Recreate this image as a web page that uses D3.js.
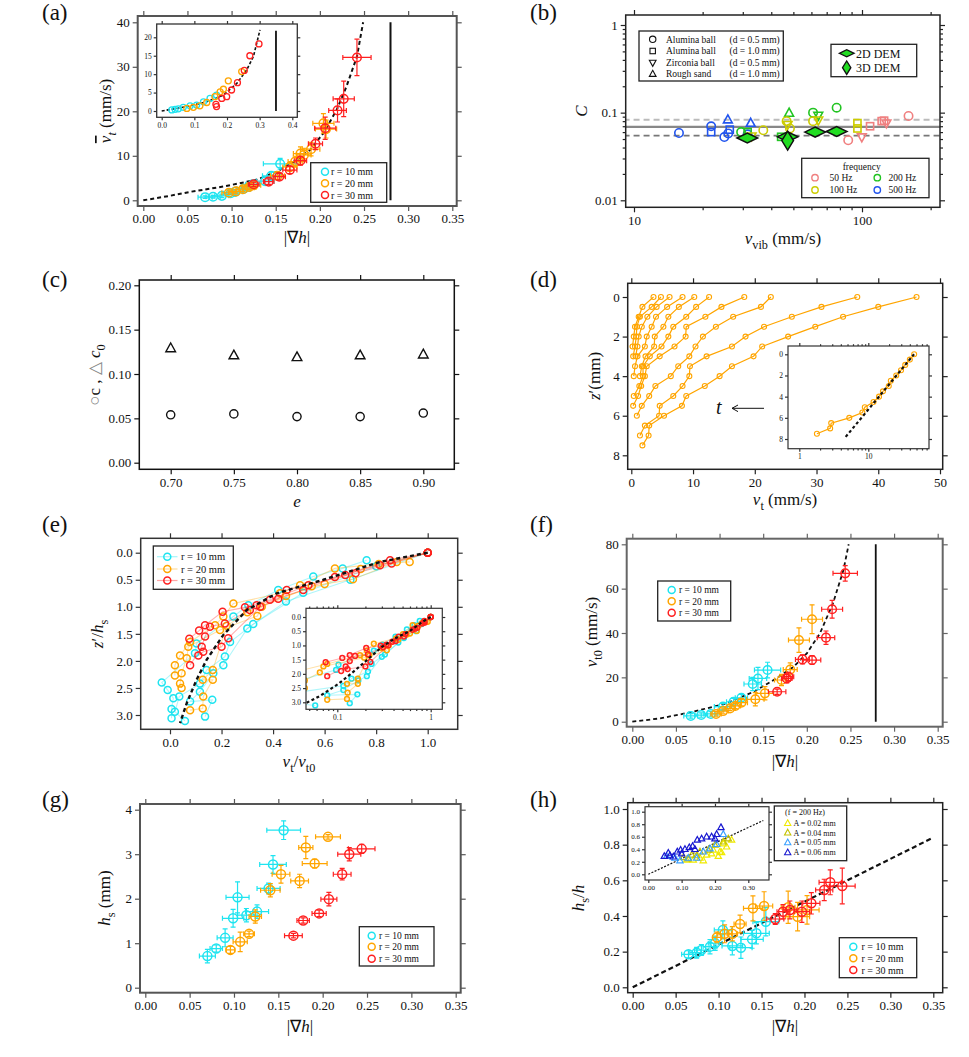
<!DOCTYPE html>
<html><head><meta charset="utf-8">
<script src="https://cdn.jsdelivr.net/npm/d3@7"></script>
<style>
body{margin:0;background:#fff;}
svg{display:block;}
</style></head><body>
<svg id="fig" width="969" height="1057"></svg>
<script>
// ---------------- DATA ----------------
// (a) mean surface velocity vs |grad h|  [x, y, xerr, yerr]
const aCyan = [[0.070,0.7,0.008,0.3],[0.079,0.8,0.008,0.3],[0.089,1.0,0.008,0.4],[0.099,1.6,0.008,0.4],[0.104,1.9,0.008,0.5],[0.114,2.6,0.008,0.5],[0.119,3.0,0.008,0.5],[0.124,3.6,0.008,0.6],[0.138,4.3,0.01,0.8],[0.145,5.5,0.01,0.8],[0.155,8.2,0.019,1.2]];
const aOrange = [[0.097,1.7,0.008,0.4],[0.105,2.0,0.008,0.4],[0.113,2.5,0.008,0.5],[0.120,3.0,0.008,0.5],[0.125,3.4,0.008,0.6],[0.152,5.5,0.008,0.8],[0.166,7.5,0.008,1.0],[0.172,8.7,0.008,1.2],[0.178,10.5,0.008,1.5],[0.182,10.2,0.008,1.5],[0.190,11.5,0.01,1.5],[0.204,17.3,0.012,2.2],[0.207,16.0,0.012,2.0]];
const aRed = [[0.125,3.6,0.006,0.5],[0.142,4.2,0.006,0.6],[0.154,5.3,0.007,0.7],[0.166,6.8,0.008,0.8],[0.178,8.9,0.007,1.0],[0.195,12.7,0.008,1.3],[0.206,16.2,0.012,2.5],[0.220,20.2,0.01,2.6],[0.227,22.8,0.012,4.0],[0.242,32.1,0.016,4.1]];
const aCurve = [[0,0],[0.03,1.0],[0.053,1.9],[0.091,3.1],[0.128,4.6],[0.151,6.4],[0.174,9.1],[0.189,11.3],[0.204,15.1],[0.219,20.3],[0.230,25.5],[0.242,32.3],[0.249,40]];
const aVLine = [[0.28,0],[0.28,40]];
const aInsetCyan = [[0.031,0.3],[0.041,0.45],[0.051,0.6],[0.066,1.0],[0.087,1.4],[0.107,1.6],[0.128,2.5],[0.148,3.4],[0.168,4.3]];
const aInsetOrange = [[0.077,0.7],[0.097,1.0],[0.117,1.4],[0.138,2.3],[0.163,3.9],[0.179,5.2],[0.189,5.9],[0.204,8.2],[0.245,10.7]];
const aInsetRed = [[0.166,1.8],[0.168,1.2],[0.184,3.4],[0.199,3.9],[0.214,5.7],[0.232,7.7],[0.253,11],[0.270,15],[0.298,18.2]];
const aInsetCurve = [[0,0],[0.046,0.7],[0.087,1.4],[0.138,2.5],[0.189,4.3],[0.230,7.5],[0.260,11.1],[0.281,14.8],[0.301,22]];
const aInsetVLine = [[0.35,0],[0.35,21.8]];

// (b) C vs v_vib, grouped by frequency: [shape, v_vib, C]
const b50 = [["circle",87,0.0484],["tridown",99.8,0.0527],["square",108.5,0.070],["square",122,0.080],["square",125,0.081],["tridown",128,0.076],["circle",160,0.0916]];
const b100 = [["circle",36.9,0.063],["tridown",32.8,0.054],["circle",46.7,0.080],["tridown",47.2,0.073],["circle",48.3,0.066],["circle",61,0.080],["tridown",64.3,0.082],["square",95.5,0.076],["square",95.5,0.066]];
const b200 = [["circle",29.5,0.060],["square",31.5,0.060],["square",44.2,0.053],["triup",47.9,0.099],["circle",61,0.100],["tridown",64.3,0.093],["circle",77.4,0.114]];
const b500 = [["circle",15.75,0.0586],["circle",21.8,0.0698],["square",21.8,0.060],["circle",24.9,0.0527],["triup",25.8,0.083],["square",26.3,0.064],["circle",25.9,0.058],["triup",32.5,0.076],["circle",31.5,0.0566]];
const bDem2D = [[31.4,0.0514],[47.2,0.053],[62.3,0.060],[77.4,0.061]];
const bDem3D = [[47.2,0.048]];
const bMean = 0.069, bUpper = 0.083, bLower = 0.0547;
const bMaterials = [["circle","Alumina ball","(d = 0.5 mm)"],["square","Alumina ball","(d = 1.0 mm)"],["tridown","Zirconia ball","(d = 0.5 mm)"],["triup","Rough sand","(d = 1.0 mm)"]];

// (c) c and c0 vs restitution e
const cE = [0.70,0.75,0.80,0.85,0.90];
const cC = [0.054,0.055,0.052,0.052,0.056];
const cC0 = [0.129,0.121,0.119,0.121,0.122];

// (d) velocity profiles v_t (mm/s) at depths z' (mm)
const dDepth = [0,0.5,1.0,1.5,2.0,2.5,3.0,3.5,4.0,4.5,5.0,5.5,6.0,6.5,7.0,7.5];
const dProfiles = [
 [46.2,40.0,34.3,29.8,25.4,21.2,19.8,16.3,14.3,11.9,8.9,8.2,5.3,2.9,2.8,1.8],
 [36.6,30.8,26.0,21.5,18.5,16.3,12.2,9.5,9.4,8.3,6.8,4.6,4.5,2.2,1.4],
 [22.6,21.0,16.5,13.7,11.6,10.4,9.4,7.6,6.4,3.9,2.9,1.7,0.9],
 [18.3,14.6,12.0,8.9,8.8,7.0,4.6,2.5,2.2,1.6,1.1,0.3],
 [12.6,10.5,8.9,6.8,6.0,4.9,3.0,1.9,1.9,1.3,0.4],
 [10.2,7.7,6.0,5.2,3.8,3.7,2.3,1.7,1.4],
 [8.3,5.8,4.0,3.3,2.5,2.2,1.0,0.6,0.4],
 [6.2,4.1,2.6,1.7,1.2,1.0,0.7],
 [4.8,3.3,1.4,0.9,0.8,0.6,0.3],
 [3.6,1.8,1.2,0.6,0.4,0.2]
];
const dInsetFit = [[4.7,7.8],[46,0]];

// (e) normalised profiles [v_t/v_t0, z'/h_s]
const eCyan = [
 [[0.763,0.14],[0.67,0.29],[0.556,0.44],[0.42,0.69],[0.304,0.97],[0.246,1.18],[0.103,1.68],[0.097,1.86],[-0.032,2.4],[-0.009,2.54],[0.013,2.69],[0.006,2.89],[0.006,3.06]],
 [[1,0],[0.8,0.25],[0.517,0.74],[0.323,1.32],[0.233,1.65],[0.213,1.92],[0.142,2.17],[0.116,2.42],[0.036,2.66],[0.019,2.94],[0.058,3.11]],
 [[1,0],[0.7,0.5],[0.45,0.9],[0.3,1.4],[0.207,2.08],[0.168,2.23],[0.116,2.57],[0.078,2.75],[0.164,2.72],[0.136,3.03]]
];
const eOrange = [
 [[0.93,0.17],[0.81,0.21],[0.64,0.29],[0.505,0.6],[0.427,0.75],[0.246,0.94],[0.207,1.18],[0.175,1.34],[0.078,1.65],[0.039,1.9],[0.019,2.08],[0.019,2.27]],
 [[1,0],[0.88,0.17],[0.71,0.49],[0.55,0.62],[0.356,1.0],[0.339,1.17],[0.194,1.43],[0.071,1.74],[0.065,1.95],[0.045,2.23],[0.039,2.42],[0.045,2.5]],
 [[1,0],[0.74,0.3],[0.6,0.58],[0.45,0.8],[0.3,1.1],[0.22,1.35],[0.166,2.17],[0.127,2.35],[0.166,2.35],[0.129,2.66],[0.127,2.88],[0.078,2.91]]
];
const eRed = [
 [[1,0],[0.854,0.14],[0.68,0.41],[0.537,0.6],[0.388,0.87],[0.291,1.01],[0.204,1.09],[0.136,1.34],[0.113,1.44],[0.075,1.59]],
 [[1,0],[0.815,0.23],[0.64,0.45],[0.517,0.69],[0.336,0.97],[0.31,1.06],[0.213,1.31],[0.155,1.37],[0.136,1.55],[0.123,1.74],[0.078,2.08]],
 [[1,0],[0.86,0.2],[0.72,0.38],[0.453,0.69],[0.42,0.85],[0.35,1.0],[0.226,1.58],[0.2,1.74],[0.129,1.83],[0.11,1.9]]
];
const eCurve = [[1,0],[0.815,0.17],[0.595,0.5],[0.414,0.75],[0.298,1.06],[0.207,1.52],[0.142,1.98],[0.103,2.35],[0.065,2.78],[0.039,3.15]];

// (f) v_t0 vs |grad h| [x, y, xerr, yerr]
const fCyan = [[0.067,2.6,0.008,1],[0.079,3.0,0.007,1],[0.090,3.5,0.008,1],[0.104,6.8,0.01,1.5],[0.116,9.0,0.008,1.5],[0.125,10.8,0.007,1.5],[0.138,17,0.01,3],[0.144,19.5,0.01,5],[0.155,23.3,0.015,3.5]];
const fOrange = [[0.096,3.5,0.006,1],[0.104,4.8,0.006,1],[0.112,6.0,0.006,1],[0.118,7.1,0.006,1.2],[0.125,8.6,0.007,1.5],[0.141,10.1,0.01,3],[0.152,12.8,0.01,3],[0.171,18.8,0.008,2.5],[0.181,23.5,0.008,3],[0.191,36.8,0.012,5.5],[0.206,46.2,0.012,6.5]];
const fRed = [[0.166,13.5,0.01,1.2],[0.177,19.5,0.006,2],[0.179,20.3,0.006,2],[0.195,28.1,0.008,2],[0.206,27.8,0.01,2],[0.222,37.9,0.01,3],[0.229,50.7,0.012,4],[0.244,66.9,0.014,3.5]];
const fCurve = [[0,0],[0.032,1.5],[0.07,4.5],[0.108,8.3],[0.139,13.5],[0.165,19.5],[0.185,24.8],[0.2,30.8],[0.215,39.8],[0.23,53.4],[0.242,68.4],[0.248,80]];
const fVLine = [[0.279,0],[0.279,80]];

// (g) h_s vs |grad h|
const gCyan = [[0.070,0.71,0.009,0.15],[0.080,0.88,0.007,0.08],[0.090,1.12,0.009,0.2],[0.099,1.56,0.012,0.2],[0.104,2.03,0.013,0.35],[0.114,1.63,0.01,0.15],[0.126,1.71,0.013,0.15],[0.139,2.23,0.013,0.12],[0.144,2.77,0.015,0.2],[0.156,3.54,0.019,0.21]];
const gOrange = [[0.096,0.85,0.005,0.08],[0.107,1.03,0.008,0.22],[0.117,1.21,0.006,0.06],[0.124,1.60,0.007,0.15],[0.141,2.19,0.011,0.15],[0.153,2.55,0.01,0.2],[0.174,2.40,0.01,0.15],[0.181,3.15,0.008,0.25],[0.191,2.79,0.014,0.1],[0.206,3.39,0.014,0.05]];
const gRed = [[0.167,1.17,0.01,0.05],[0.178,1.51,0.007,0.06],[0.196,1.67,0.008,0.07],[0.207,1.99,0.009,0.15],[0.222,2.55,0.01,0.13],[0.230,3.00,0.013,0.15],[0.244,3.12,0.015,0.1]];

// (h) h_s/h vs |grad h|
const hCyan = [[0.065,0.185,0.008,0.02],[0.0745,0.194,0.008,0.03],[0.080,0.209,0.008,0.03],[0.090,0.228,0.008,0.04],[0.096,0.247,0.008,0.04],[0.105,0.322,0.01,0.05],[0.116,0.232,0.012,0.05],[0.126,0.222,0.013,0.06],[0.139,0.269,0.013,0.05],[0.144,0.303,0.015,0.06],[0.155,0.368,0.015,0.08]];
const hOrange = [[0.098,0.28,0.005,0.03],[0.107,0.30,0.008,0.05],[0.116,0.30,0.006,0.04],[0.125,0.355,0.007,0.05],[0.140,0.443,0.011,0.07],[0.153,0.456,0.01,0.08],[0.181,0.449,0.008,0.09],[0.192,0.396,0.014,0.08],[0.203,0.434,0.014,0.08]];
const hRed = [[0.166,0.383,0.01,0.03],[0.175,0.424,0.007,0.04],[0.183,0.434,0.008,0.05],[0.197,0.424,0.009,0.06],[0.208,0.471,0.01,0.06],[0.223,0.546,0.01,0.06],[0.230,0.589,0.013,0.07],[0.244,0.568,0.015,0.1]];
const hLine = [[0,0],[0.35,0.84]];
const hiA02 = [[0.115,0.23],[0.135,0.23],[0.155,0.26],[0.175,0.31],[0.195,0.39],[0.215,0.36],[0.22,0.35],[0.225,0.49],[0.235,0.44],[0.25,0.55],[0.21,0.29],[0.19,0.33],[0.165,0.22]];
const hiA04 = [[0.105,0.27],[0.13,0.31],[0.155,0.36],[0.18,0.39],[0.2,0.47],[0.225,0.52],[0.24,0.57],[0.12,0.25],[0.145,0.3]];
const hiA05 = [[0.055,0.29],[0.08,0.26],[0.095,0.22],[0.12,0.26],[0.145,0.26],[0.165,0.36],[0.185,0.41],[0.205,0.48],[0.225,0.64]];
const hiA06 = [[0.048,0.29],[0.06,0.34],[0.075,0.28],[0.087,0.36],[0.097,0.39],[0.11,0.4],[0.123,0.43],[0.133,0.45],[0.147,0.55],[0.16,0.57],[0.175,0.6],[0.19,0.6],[0.2,0.57],[0.205,0.64],[0.218,0.75],[0.065,0.3],[0.1,0.33],[0.14,0.4]];
const hiLine = [[0,0],[0.345,0.86]];

// tick values
const tGrad = [0,0.05,0.10,0.15,0.20,0.25,0.30,0.35];
const tA_y = [0,10,20,30,40];
const tAi_x = [0,0.1,0.2,0.3,0.4], tAi_y = [0,5,10,15,20];
const tB_x = [10,100], tB_xm = [20,30,40,50,60,70,80,90,200];
const tB_y = [0.01,0.1,1], tB_ym = [0.02,0.03,0.04,0.05,0.06,0.07,0.08,0.09,0.2,0.3,0.4,0.5,0.6,0.7,0.8,0.9];
const tC_x = [0.70,0.75,0.80,0.85,0.90], tC_y = [0,0.05,0.10,0.15,0.20];
const tD_x = [0,10,20,30,40,50], tD_y = [0,2,4,6,8];
const tDi_x = [1,10], tDi_xm = [2,3,4,5,6,7,8,9,20,30,40,50,60,70];
const tE_x = [0,0.2,0.4,0.6,0.8,1.0], tE_y = [0,0.5,1.0,1.5,2.0,2.5,3.0];
const tEi_x = [0.1,1], tEi_xm = [0.05,0.06,0.07,0.08,0.09,0.2,0.3,0.4,0.5,0.6,0.7,0.8,0.9];
const tF_y = [0,20,40,60,80];
const tG_y = [0,1,2,3,4];
const tH_y = [0,0.2,0.4,0.6,0.8,1.0];
const tHi_x = [0,0.1,0.2,0.3], tHi_y = [0,0.2,0.4,0.6,0.8,1.0];

const COL = {cyan:"#1ee4f0", orange:"#ffa500", red:"#ff2020"};
const FREQ = {f50:"#f08080", f100:"#cccc00", f200:"#22c422", f500:"#2255ee"};

// ---------------- HELPERS ----------------
const svg = d3.select("#fig");
const FONT = '"Liberation Serif","Times New Roman",Times,serif';
let clipN = 0;
const f2 = d3.format(".2f"), f1 = d3.format(".1f"), fd = d3.format("d");

function panel(o) {
  const g = svg.append("g");
  const tk = o.tick ?? 5, fs = o.fs ?? 13, col = o.color ?? "#222", sw = o.sw ?? 1.5;
  if (o.bg) g.append("rect").attr("x", o.x0).attr("y", o.y0).attr("width", o.x1 - o.x0).attr("height", o.y1 - o.y0).attr("fill", "#fff");
  const ax = g.append("g");
  const mk = (fn, sc, vals, fmt, tr, size, lab) => {
    const a = fn(sc).tickValues(vals).tickSize(size).tickSizeOuter(0).tickPadding(o.pad ?? 3).tickFormat(lab ? fmt : () => "");
    const s = ax.append("g").attr("transform", tr).call(a);
    s.select(".domain").remove();
    s.selectAll("line").attr("stroke", col).attr("stroke-width", o.tw ?? 1.2);
    s.selectAll("text").attr("font-family", FONT).attr("font-size", fs).attr("fill", "#111");
  };
  mk(d3.axisBottom, o.xs, o.xt, o.xf, `translate(0,${o.y1})`, tk, true);
  mk(d3.axisTop, o.xs, o.xt, o.xf, `translate(0,${o.y0})`, tk, false);
  mk(d3.axisLeft, o.ys, o.yt, o.yf, `translate(${o.x0},0)`, tk, true);
  mk(d3.axisRight, o.ys, o.yt, o.yf, `translate(${o.x1},0)`, tk, false);
  if (o.xm) {
    mk(d3.axisBottom, o.xs, o.xm, null, `translate(0,${o.y1})`, tk * 0.6, false);
    mk(d3.axisTop, o.xs, o.xm, null, `translate(0,${o.y0})`, tk * 0.6, false);
  }
  if (o.ym) {
    mk(d3.axisLeft, o.ys, o.ym, null, `translate(${o.x0},0)`, tk * 0.6, false);
    mk(d3.axisRight, o.ys, o.ym, null, `translate(${o.x1},0)`, tk * 0.6, false);
  }
  const id = "clip" + (clipN++);
  g.append("clipPath").attr("id", id).append("rect").attr("x", o.x0).attr("y", o.y0).attr("width", o.x1 - o.x0).attr("height", o.y1 - o.y0);
  const data = g.append("g").attr("clip-path", `url(#${id})`);
  g.append("rect").attr("x", o.x0).attr("y", o.y0).attr("width", o.x1 - o.x0).attr("height", o.y1 - o.y0)
    .attr("fill", "none").attr("stroke", col).attr("stroke-width", sw);
  return {g, data};
}

function errPts(gr, xs, ys, arr, color, r) {
  const gg = gr.append("g").attr("stroke", color).attr("fill", "none");
  arr.forEach(([x, y, xe, ye]) => {
    const cx = xs(x), cy = ys(y), c = 2.5;
    if (xe) {
      const a = xs(x - xe), b = xs(x + xe);
      gg.append("line").attr("x1", a).attr("x2", b).attr("y1", cy).attr("y2", cy).attr("stroke-width", 1.2);
      [a, b].forEach(v => gg.append("line").attr("x1", v).attr("x2", v).attr("y1", cy - c).attr("y2", cy + c).attr("stroke-width", 1.2));
    }
    if (ye) {
      const a = ys(y - ye), b = ys(y + ye);
      gg.append("line").attr("x1", cx).attr("x2", cx).attr("y1", a).attr("y2", b).attr("stroke-width", 1.2);
      [a, b].forEach(v => gg.append("line").attr("y1", v).attr("y2", v).attr("x1", cx - c).attr("x2", cx + c).attr("stroke-width", 1.2));
    }
    gg.append("circle").attr("cx", cx).attr("cy", cy).attr("r", r).attr("stroke-width", 1.5);
  });
}

function plain(gr, xs, ys, arr, color, r, sw) {
  gr.append("g").selectAll("circle").data(arr).join("circle")
    .attr("cx", d => xs(d[0])).attr("cy", d => ys(d[1])).attr("r", r)
    .attr("fill", "none").attr("stroke", color).attr("stroke-width", sw ?? 1.5);
}

function curve(gr, xs, ys, arr, color, w, dash, op) {
  const ln = d3.line().defined(d => xs(d[0]) != null && isFinite(xs(d[0]))).x(d => xs(d[0])).y(d => ys(d[1]));
  gr.append("path").attr("d", ln(arr)).attr("fill", "none").attr("stroke", color)
    .attr("stroke-width", w).attr("stroke-dasharray", dash || null).attr("stroke-opacity", op ?? 1);
}

function shape(gr, type, x, y, s, stroke, fill, sw) {
  let el;
  if (type === "circle") el = gr.append("circle").attr("cx", x).attr("cy", y).attr("r", s);
  else if (type === "square") el = gr.append("rect").attr("x", x - s * 0.85).attr("y", y - s * 0.85).attr("width", 1.7 * s).attr("height", 1.7 * s);
  else {
    const p = {triup: [[0,-1.15],[1.05,0.75],[-1.05,0.75]], tridown: [[0,1.15],[1.05,-0.75],[-1.05,-0.75]],
      dem2: [[-2.3,0],[0,-1.1],[2.3,0],[0,1.1]], dem3: [[-1.3,0],[0,-2.1],[1.3,0],[0,2.1]]}[type];
    el = gr.append("path").attr("d", "M" + p.map(q => [x + q[0] * s, y + q[1] * s].join(",")).join("L") + "Z");
  }
  el.attr("stroke", stroke).attr("fill", fill || "none").attr("stroke-width", sw || 1.5);
  return el;
}

function rich(parent, x, y, segs, fs, opts = {}) {
  const t = parent.append("text").attr("x", x).attr("y", y).attr("font-family", FONT).attr("font-size", fs)
    .attr("fill", "#111").attr("text-anchor", opts.anchor || "middle");
  if (opts.rotate) t.attr("transform", `rotate(-90,${x},${y})`);
  let shift = 0;
  segs.forEach(s => {
    const ts = t.append("tspan").text(s.t);
    if (s.i) ts.attr("font-style", "italic");
    if (s.over) ts.attr("text-decoration", "overline");
    const target = s.sub ? fs * 0.32 : 0;
    if (target !== shift) { ts.attr("dy", target - shift); shift = target; }
    if (s.sub) ts.attr("font-size", fs * 0.72);
    if (s.fill) ts.attr("fill", s.fill);
  });
  return t;
}

function box(gr, x0, y0, x1, y1) {
  gr.append("rect").attr("x", x0).attr("y", y0).attr("width", x1 - x0).attr("height", y1 - y0)
    .attr("fill", "#fff").attr("stroke", "#222").attr("stroke-width", 1.3);
}

function rLegend(gr, x0, y0, x1, y1, cx, tx, rows, fs) {
  box(gr, x0, y0, x1, y1);
  [["r = 10 mm", COL.cyan], ["r = 20 mm", COL.orange], ["r = 30 mm", COL.red]].forEach(([t, c], i) => {
    gr.append("circle").attr("cx", cx).attr("cy", rows[i]).attr("r", 3.5).attr("fill", "none").attr("stroke", c).attr("stroke-width", 1.5);
    gr.append("text").attr("x", tx).attr("y", rows[i] + fs * 0.35).attr("font-family", FONT).attr("font-size", fs).attr("fill", "#111").text(t);
  });
}

function panelLabel(t, x, y) {
  svg.append("text").attr("x", x).attr("y", y).attr("font-family", FONT).attr("font-size", 23).attr("fill", "#111").text(t);
}

const grad = [{t: "|\u2207"}, {t: "h", i: true}, {t: "|"}];
const AX = 17;

// ---------------- (a) ----------------
{
  const xs = d3.scaleLinear().domain([0, 0.35]).range([143.3, 452.3]);
  const ys = d3.scaleLinear().domain([0, 40]).range([200.3, 22.3]);
  const P = panel({x0: 137.7, y0: 16, x1: 456.7, y1: 206, xs, ys, xt: tGrad, xf: f2, yt: tA_y, yf: fd, color: "#555", sw: 2});
  curve(P.data, xs, ys, aVLine, "#111", 2);
  curve(P.data, xs, ys, aCurve, "#111", 2, "4,3");
  errPts(P.data, xs, ys, aCyan, COL.cyan, 4.3);
  errPts(P.data, xs, ys, aOrange, COL.orange, 4.3);
  errPts(P.data, xs, ys, aRed, COL.red, 4.3);
  rLegend(P.g, 310.7, 162.7, 386.7, 202.3, 325, 331, [171.7, 183.3, 195], 10);
  // inset
  const ixs = d3.scaleLinear().domain([0, 0.4]).range([161.7, 292.3]);
  const iys = d3.scaleLinear().domain([0, 20]).range([111, 37.3]);
  const I = panel({x0: 156.7, y0: 24, x1: 297.3, y1: 117.3, xs: ixs, ys: iys, xt: tAi_x, xf: f1, yt: tAi_y, yf: fd, tick: 3, fs: 7.5, pad: 2, color: "#333", sw: 1.3, bg: true});
  curve(I.data, ixs, iys, aInsetVLine, "#111", 1.8);
  curve(I.data, ixs, iys, aInsetCurve, "#111", 1.6, "3,2");
  plain(I.data, ixs, iys, aInsetCyan, COL.cyan, 3, 1.3);
  plain(I.data, ixs, iys, aInsetOrange, COL.orange, 3, 1.3);
  plain(I.data, ixs, iys, aInsetRed, COL.red, 3, 1.3);
  rich(svg, 111, 111, [{t: "v", i: true, over: true}, {t: "t", i: true, sub: true}, {t: " (mm/s)"}], AX, {rotate: true});
  rich(svg, 297, 243, grad, AX);
  panelLabel("(a)", 42, 20);
}

// ---------------- (b) ----------------
{
  const xs = d3.scaleLog().domain([10, 100]).range([634, 862]);
  const ys = d3.scaleLog().domain([0.01, 1]).range([200.3, 25]);
  const P = panel({x0: 625.7, y0: 15, x1: 940, y1: 207.3, xs, ys, xt: tB_x, xf: d => String(d), xm: tB_xm, yt: tB_y, yf: d => String(d), ym: tB_ym, color: "#222", sw: 1.5});
  const hl = (v, c, dash, w) => curve(P.data, xs, ys, [[9, v], [230, v]], c, w, dash);
  hl(bUpper, "#bbb", "6,4", 1.8);
  hl(bLower, "#777", "6,4", 1.8);
  hl(bMean, "#888", null, 2.2);
  [[b500, FREQ.f500], [b200, FREQ.f200], [b100, FREQ.f100], [b50, FREQ.f50]].forEach(([arr, c]) => {
    arr.forEach(d => shape(P.data, d[0], xs(d[1]), ys(d[2]), 4.2, c, "none", 1.6));
  });
  bDem2D.forEach(d => shape(P.data, "dem2", xs(d[0]), ys(d[1]), 4.5, "#111", "#22dd22", 1.5));
  bDem3D.forEach(d => shape(P.data, "dem3", xs(d[0]), ys(d[1]), 4.5, "#111", "#22dd22", 1.5));
  // legend materials
  box(P.g, 639, 31, 783.3, 81);
  const lrows = [39.3, 51, 62.7, 74];
  bMaterials.forEach((m, i) => {
    shape(P.g, m[0], 652.7, lrows[i], 3.2, "#111", "none", 1.1);
    P.g.append("text").attr("x", 666).attr("y", lrows[i] + 3.3).attr("font-family", FONT).attr("font-size", 9.5).attr("fill", "#111").text(m[1]);
    P.g.append("text").attr("x", 729.5).attr("y", lrows[i] + 3.3).attr("font-family", FONT).attr("font-size", 9.5).attr("fill", "#111").text(m[2]);
  });
  // legend DEM
  box(P.g, 831, 44.3, 916.7, 76.7);
  shape(P.g, "dem2", 846.7, 53.3, 3.2, "#111", "#22dd22", 1.3);
  shape(P.g, "dem3", 846.7, 67.7, 3.2, "#111", "#22dd22", 1.3);
  P.g.append("text").attr("x", 856).attr("y", 57.5).attr("font-family", FONT).attr("font-size", 12).attr("fill", "#111").text("2D DEM");
  P.g.append("text").attr("x", 856).attr("y", 71.9).attr("font-family", FONT).attr("font-size", 12).attr("fill", "#111").text("3D DEM");
  // legend frequency
  box(P.g, 801.7, 158.3, 929, 197.7);
  P.g.append("text").attr("x", 861.7).attr("y", 169.5).attr("text-anchor", "middle").attr("font-family", FONT).attr("font-size", 9.5).attr("fill", "#111").text("frequency");
  [["50 Hz", FREQ.f50, 815, 829.5, 177.7], ["100 Hz", FREQ.f100, 815, 829.5, 190], ["200 Hz", FREQ.f200, 877.3, 888.5, 177.7], ["500 Hz", FREQ.f500, 877.3, 888.5, 190]].forEach(([t, c, sx, tx, y]) => {
    shape(P.g, "circle", sx, y, 3.2, c, "none", 1.4);
    P.g.append("text").attr("x", tx).attr("y", y + 3.3).attr("font-family", FONT).attr("font-size", 9.5).attr("fill", "#111").text(t);
  });
  rich(svg, 587, 111, [{t: "C", i: true}], AX, {rotate: true});
  rich(svg, 783, 244, [{t: "v", i: true}, {t: "vib", sub: true}, {t: " (mm/s)"}], AX);
  panelLabel("(b)", 530, 20);
}

// ---------------- (c) ----------------
{
  const xs = d3.scaleLinear().domain([0.7, 0.9]).range([170.7, 423.3]);
  const ys = d3.scaleLinear().domain([0, 0.2]).range([462.7, 285.3]);
  const P = panel({x0: 139.3, y0: 280, x1: 454.3, y1: 469.3, xs, ys, xt: tC_x, xf: f2, yt: tC_y, yf: f2, color: "#111", sw: 1.5});
  cE.forEach((e, i) => {
    shape(P.data, "triup", xs(e), ys(cC0[i]), 4.6, "#111", "none", 1.4);
    shape(P.data, "circle", xs(e), ys(cC[i]), 4.1, "#111", "none", 1.4);
  });
  rich(svg, 100, 375, [{t: "\u25CB", fill: "#888"}, {t: "c , "}, {t: "\u25B3 ", fill: "#888"}, {t: "c", i: true}, {t: "0", sub: true}], AX, {rotate: true});
  rich(svg, 297, 507, [{t: "e", i: true}], AX);
  panelLabel("(c)", 42, 287);
}

// ---------------- (d) ----------------
{
  const xs = d3.scaleLinear().domain([0, 50]).range([631.3, 940]);
  const ys = d3.scaleLinear().domain([0, 8]).range([297, 455.3]);
  const P = panel({x0: 627.7, y0: 283.3, x1: 942.7, y1: 469.3, xs, ys, xt: tD_x, xf: fd, yt: tD_y, yf: fd, color: "#222", sw: 1.5});
  dProfiles.forEach(pr => {
    const arr = pr.map((v, i) => [v, dDepth[i]]);
    curve(P.data, xs, ys, arr, COL.orange, 1.2);
    plain(P.data, xs, ys, arr, COL.orange, 2.5, 1.1);
  });
  // arrow annotation
  P.g.append("text").attr("x", 716).attr("y", 414).attr("font-family", FONT).attr("font-style", "italic").attr("font-size", 20).attr("fill", "#111").text("t");
  P.g.append("line").attr("x1", 732).attr("x2", 764).attr("y1", 408.3).attr("y2", 408.3).attr("stroke", "#111").attr("stroke-width", 1);
  P.g.append("path").attr("d", "M738,405 L732,408.3 L738,411.6").attr("fill", "none").attr("stroke", "#111").attr("stroke-width", 1);
  // inset
  const ixs = d3.scaleLog().domain([1, 10]).range([799.3, 868.3]);
  const iys = d3.scaleLinear().domain([0, 8]).range([354.3, 439]);
  const I = panel({x0: 788, y0: 346, x1: 929, y1: 448.7, xs: ixs, ys: iys, xt: tDi_x, xf: fd, xm: tDi_xm, yt: tD_y, yf: fd, tick: 3, fs: 7.5, pad: 2, color: "#333", sw: 1.2, bg: true});
  const c1 = dProfiles[0].map((v, i) => [v, dDepth[i]]);
  curve(I.data, ixs, iys, c1, COL.orange, 1.2);
  plain(I.data, ixs, iys, c1, COL.orange, 2.5, 1.1);
  curve(I.data, ixs, iys, dInsetFit, "#111", 2.2, "3,2.5");
  rich(svg, 600, 376, [{t: "z", i: true}, {t: "\u2032(mm)"}], AX, {rotate: true});
  rich(svg, 785, 505, [{t: "v", i: true}, {t: "t", sub: true}, {t: " (mm/s)"}], AX);
  panelLabel("(d)", 530, 287);
}

// ---------------- (e) ----------------
{
  const xs = d3.scaleLinear().domain([0, 1]).range([170, 427.7]);
  const ys = d3.scaleLinear().domain([0, 3]).range([552.7, 715]);
  const P = panel({x0: 140.7, y0: 538.3, x1: 457.7, y1: 729.3, xs, ys, xt: tE_x, xf: f1, yt: tE_y, yf: f1, color: "#333", sw: 1.5});
  const drawSet = (gr, X, Y, sets, c, r) => {
    sets.forEach(s => curve(gr, X, Y, s, c, 1.1, null, 0.35));
    sets.forEach(s => plain(gr, X, Y, s, c, r, 1.5));
  };
  drawSet(P.data, xs, ys, eCyan, COL.cyan, 3.5);
  drawSet(P.data, xs, ys, eOrange, COL.orange, 3.5);
  drawSet(P.data, xs, ys, eRed, COL.red, 3.5);
  curve(P.data, xs, ys, eCurve, "#111", 2.4, "4,3");
  // legend
  box(P.g, 153.3, 546, 233.3, 589.3);
  [["r = 10 mm", COL.cyan, 556.7], ["r = 20 mm", COL.orange, 569], ["r = 30 mm", COL.red, 580.5]].forEach(([t, c, y]) => {
    P.g.append("line").attr("x1", 157).attr("x2", 177.5).attr("y1", y).attr("y2", y).attr("stroke", c).attr("stroke-opacity", 0.4).attr("stroke-width", 1.2);
    P.g.append("circle").attr("cx", 167.3).attr("cy", y).attr("r", 3.5).attr("fill", "none").attr("stroke", c).attr("stroke-width", 1.5);
    P.g.append("text").attr("x", 181).attr("y", y + 3.6).attr("font-family", FONT).attr("font-size", 10.5).attr("fill", "#111").text(t);
  });
  // inset
  const ixs = d3.scaleLog().domain([0.1, 1]).range([337.3, 430.7]);
  const iys = d3.scaleLinear().domain([0, 3]).range([617, 702.3]);
  const I = panel({x0: 306, y0: 608.3, x1: 442.3, y1: 709.3, xs: ixs, ys: iys, xt: tEi_x, xf: d => String(d), xm: tEi_xm, yt: tE_y, yf: f1, tick: 3, fs: 7.5, pad: 2, color: "#333", sw: 1.2, bg: true});
  const pos = sets => sets.map(s => s.filter(d => d[0] > 0));
  drawSet(I.data, ixs, iys, pos(eCyan), COL.cyan, 2.4);
  drawSet(I.data, ixs, iys, pos(eOrange), COL.orange, 2.4);
  drawSet(I.data, ixs, iys, pos(eRed), COL.red, 2.4);
  curve(I.data, ixs, iys, eCurve, "#111", 2.2, "3,2.5");
  rich(svg, 103, 634, [{t: "z", i: true}, {t: "\u2032/"}, {t: "h", i: true}, {t: "s", sub: true}], AX, {rotate: true});
  rich(svg, 299, 767, [{t: "v", i: true}, {t: "t", sub: true}, {t: "/"}, {t: "v", i: true}, {t: "t0", sub: true}], AX);
  panelLabel("(e)", 42, 532);
}

// ---------------- (f) ----------------
{
  const xs = d3.scaleLinear().domain([0, 0.35]).range([632.3, 937.7]);
  const ys = d3.scaleLinear().domain([0, 80]).range([721.7, 544.3]);
  const P = panel({x0: 626.7, y0: 538.7, x1: 942.7, y1: 726.7, xs, ys, xt: tGrad, xf: f2, yt: tF_y, yf: fd, color: "#666", sw: 2});
  curve(P.data, xs, ys, fVLine, "#111", 1.8);
  curve(P.data, xs, ys, fCurve, "#111", 1.8, "4,3");
  errPts(P.data, xs, ys, fCyan, COL.cyan, 4.3);
  errPts(P.data, xs, ys, fOrange, COL.orange, 4.3);
  errPts(P.data, xs, ys, fRed, COL.red, 4.3);
  rLegend(P.g, 657.7, 581, 730.7, 621, 671.7, 679, [590, 601.3, 612.7], 9.5);
  rich(svg, 597, 632, [{t: "v", i: true}, {t: "t0", sub: true}, {t: " (mm/s)"}], AX, {rotate: true});
  rich(svg, 785, 767, grad, AX);
  panelLabel("(f)", 530, 532);
}

// ---------------- (g) ----------------
{
  const xs = d3.scaleLinear().domain([0, 0.35]).range([145.3, 455.7]);
  const ys = d3.scaleLinear().domain([0, 4]).range([987.7, 809.7]);
  const P = panel({x0: 140, y0: 804, x1: 460.7, y1: 992.7, xs, ys, xt: tGrad, xf: f2, yt: tG_y, yf: fd, color: "#555", sw: 2});
  errPts(P.data, xs, ys, gCyan, COL.cyan, 4.5);
  errPts(P.data, xs, ys, gOrange, COL.orange, 4.5);
  errPts(P.data, xs, ys, gRed, COL.red, 4.5);
  rLegend(P.g, 359.3, 926.7, 434, 966, 371.7, 379, [935.7, 946.7, 958.7], 9.5);
  rich(svg, 110, 898, [{t: "h", i: true}, {t: "s", sub: true}, {t: " (mm)"}], AX, {rotate: true});
  rich(svg, 300, 1032, grad, AX);
  panelLabel("(g)", 42, 807);
}

// ---------------- (h) ----------------
{
  const xs = d3.scaleLinear().domain([0, 0.35]).range([632.7, 933.3]);
  const ys = d3.scaleLinear().domain([0, 1]).range([987.3, 809]);
  const P = panel({x0: 627.7, y0: 802.7, x1: 942.7, y1: 992.7, xs, ys, xt: tGrad, xf: f2, yt: tH_y, yf: f1, color: "#222", sw: 1.5});
  curve(P.data, xs, ys, hLine, "#111", 2.2, "5,3");
  errPts(P.data, xs, ys, hCyan, COL.cyan, 4.5);
  errPts(P.data, xs, ys, hOrange, COL.orange, 4.5);
  errPts(P.data, xs, ys, hRed, COL.red, 4.5);
  rLegend(P.g, 839.3, 937.7, 916.7, 977.7, 853.3, 861.5, [946.7, 958.3, 970], 10);
  // inset
  const ixs = d3.scaleLinear().domain([0, 0.3]).range([648.3, 748.3]);
  const iys = d3.scaleLinear().domain([0, 1]).range([874.3, 811.7]);
  const I = panel({x0: 645, y0: 806.7, x1: 769, y1: 880, xs: ixs, ys: iys, xt: tHi_x, xf: f2, yt: tHi_y, yf: f1, tick: 3, fs: 7, pad: 2, color: "#333", sw: 1.2, bg: true});
  curve(I.data, ixs, iys, hiLine, "#111", 1.2, "2,1.5");
  const AC = [["A = 0.02 mm", "#f0ea00", hiA02], ["A = 0.04 mm", "#c2c200", hiA04], ["A = 0.05 mm", "#3aa0ff", hiA05], ["A = 0.06 mm", "#1818d0", hiA06]];
  AC.forEach(([t, c, arr]) => arr.forEach(d => shape(I.data, "triup", ixs(d[0]), iys(d[1]), 3, c, "none", 1.2)));
  box(P.g, 774.3, 806, 846.7, 860.7);
  P.g.append("text").attr("x", 805).attr("y", 815).attr("text-anchor", "middle").attr("font-family", FONT).attr("font-size", 8).attr("fill", "#111").text("(f = 200 Hz)");
  const hr = [823.3, 832.7, 842.5, 852.5];
  AC.forEach(([t, c], i) => {
    shape(P.g, "triup", 787.7, hr[i], 3, c, "none", 1.1);
    P.g.append("text").attr("x", 793.5).attr("y", hr[i] + 2.8).attr("font-family", FONT).attr("font-size", 8).attr("fill", "#111").text(t);
  });
  rich(svg, 584, 898, [{t: "h", i: true}, {t: "s", sub: true}, {t: "/"}, {t: "h", i: true}], AX, {rotate: true});
  rich(svg, 785, 1032, grad, AX);
  panelLabel("(h)", 530, 807);
}
</script></body></html>
